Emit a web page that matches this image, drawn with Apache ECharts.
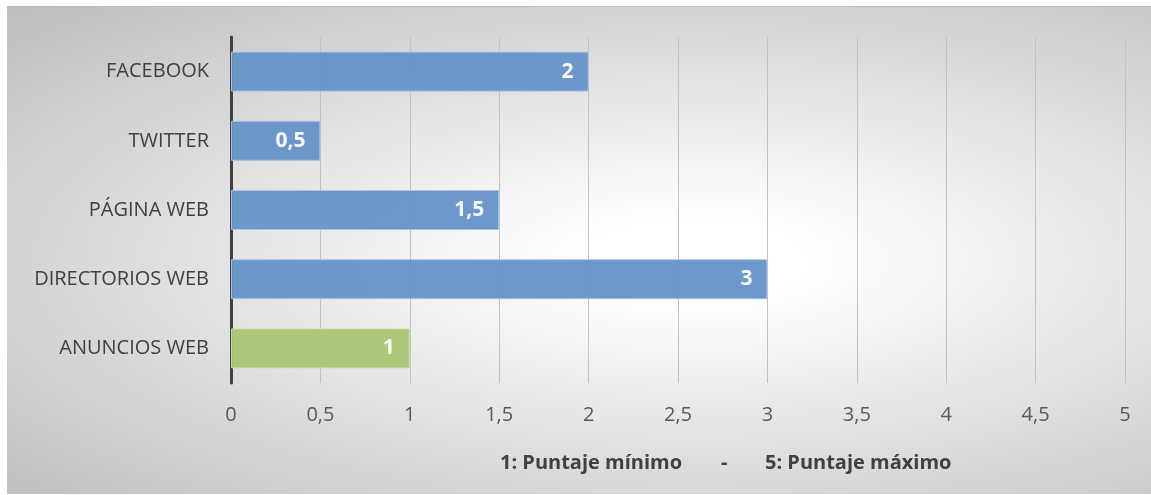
<!DOCTYPE html>
<html>
<head>
<meta charset="utf-8">
<script src="https://cdn.jsdelivr.net/npm/echarts@6/dist/echarts.min.js"></script>
<style>
  html, body { margin: 0; padding: 0; background: #ffffff; }
  #chart {
    position: absolute; left: 7px; top: 6px; width: 1144px; height: 488px;
    border-top: 1px solid #bcbcbc;
    box-sizing: border-box;
    background: radial-gradient(ellipse at 60% 52%, #ffffff 12%, #bdbdbd 100%);
  }
</style>
</head>
<body>
<div id="chart"></div>
<script>
var categories = ['FACEBOOK', 'TWITTER', 'PÁGINA WEB', 'DIRECTORIOS WEB', 'ANUNCIOS WEB']
var scores = [2, 0.5, 1.5, 3, 1]
var barColors = ['#6592c8', '#6592c8', '#6592c8', '#6592c8', '#a9c574']
var barBorders = ['#a9c4e6', '#a9c4e6', '#a9c4e6', '#a9c4e6', '#cbdcaa']
var noteLeft = '1: Puntaje mínimo'
var noteDash = '-'
var noteRight = '5: Puntaje máximo'

function fmt (v) {
  return String(v).replace('.', ',')
}

var myChart = echarts.init(document.getElementById('chart'))
myChart.setOption({
  animation: false,
  grid: { left: 224, right: 26, top: 30, bottom: 111 },
  xAxis: {
    type: 'value',
    min: 0,
    max: 5,
    interval: 0.5,
    axisLine: { show: false },
    axisTick: { show: false },
    axisLabel: {
      margin: 22,
      formatter: fmt,
      color: '#595959',
      fontSize: 20,
      fontFamily: 'Open Sans'
    },
    splitLine: { lineStyle: { color: '#c2c2c2', width: 1 } }
  },
  yAxis: {
    type: 'category',
    inverse: true,
    data: categories,
    axisTick: { show: false },
    axisLine: { lineStyle: { color: '#404040', width: 3 } },
    axisLabel: {
      margin: 22,
      color: '#404040',
      fontSize: 20,
      fontFamily: 'Open Sans'
    }
  },
  series: [
    {
      type: 'bar',
      barWidth: 40,
      data: scores.map(function (v, i) {
        return {
          value: v,
          itemStyle: { color: barColors[i], borderColor: barBorders[i], borderWidth: 1, opacity: 0.95 }
        }
      }),
      label: {
        show: true,
        position: 'insideRight',
        distance: 15,
        formatter: function (p) { return fmt(p.value) },
        color: '#ffffff',
        fontWeight: 'bold',
        fontSize: 21,
        fontFamily: 'Open Sans'
      }
    }
  ],
  graphic: [
    { type: 'text', left: 493, top: 446, style: { text: noteLeft, fill: '#404040', font: 'bold 20px "Open Sans"' } },
    { type: 'text', left: 714, top: 446, style: { text: noteDash, fill: '#404040', font: 'bold 20px "Open Sans"' } },
    { type: 'text', left: 758, top: 446, style: { text: noteRight, fill: '#404040', font: 'bold 20px "Open Sans"' } }
  ]
})
</script>
</body>
</html>
